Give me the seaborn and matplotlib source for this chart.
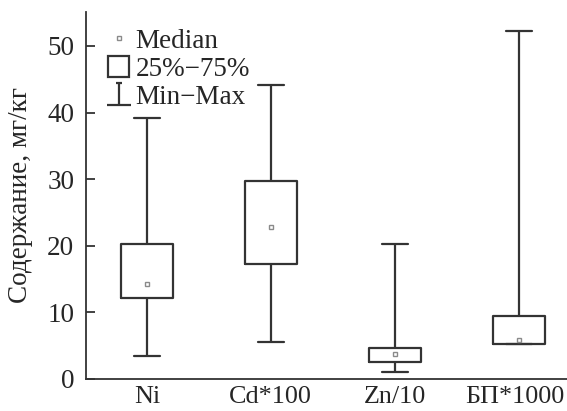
import matplotlib
matplotlib.use("Agg")
import matplotlib.pyplot as plt
import matplotlib.transforms as mtransforms
import numpy as np
import pandas as pd
import seaborn as sns
from matplotlib.lines import Line2D
from matplotlib.patches import Patch
from matplotlib.path import Path

# summary stats (min, q1, median, q3, max)
categories = ["Ni", "Cd*100", "Zn/10", "БП*1000"]
mins = [3.4, 5.6, 1.1, 5.2]
q1s = [12.2, 17.2, 2.6, 5.2]
medians = [14.3, 22.8, 3.7, 5.9]
q3s = [20.3, 29.8, 4.6, 9.5]
maxs = [39.2, 44.2, 20.2, 52.3]

LINE = "#333333"
FONT = ["Liberation Serif", "DejaVu Serif"]
FS = 19.5

sns.set_theme(style="white")
plt.rcParams["font.family"] = FONT
plt.rcParams["font.size"] = FS

# five points per group -> linear quartiles hit the values exactly
rows = []
for cat, a, b, c, d, e in zip(categories, mins, q1s, medians, q3s, maxs):
    for v in (a, b, c, d, e):
        rows.append({"group": cat, "value": v})
df = pd.DataFrame(rows)

fig = plt.figure(figsize=(5.67, 4.11), dpi=100)
ax = fig.add_axes([0.1517, 0.0779, 0.8483, 0.8929])

sns.boxplot(
    data=df, x="group", y="value", order=categories, ax=ax,
    whis=(0, 100), width=0.42, fill=False, color=LINE, linewidth=1.6,
    medianprops={"visible": False},
)

med_df = pd.DataFrame({"group": categories, "value": medians})
ax.plot(range(len(categories)), med_df["value"], ls="", marker="s", ms=3.4,
        mfc="white", mec="#8a8a8a", mew=1.0, zorder=5)

ax.set_xlim(-0.49, 3.39)
ax.set_ylim(0, 55.1)
ax.set_yticks([0, 10, 20, 30, 40, 50])
ax.set_xlabel("")
ax.set_ylabel("Содержание, мг/кг", fontsize=FS)
ax.yaxis.set_label_coords(-0.11, 0.5)

for side in ("top", "right"):
    ax.spines[side].set_visible(False)
for side in ("left", "bottom"):
    ax.spines[side].set_color(LINE)
    ax.spines[side].set_linewidth(1.3)

ax.tick_params(axis="y", direction="in", length=6.5, width=1.3, color=LINE,
               pad=8.5, labelsize=FS, left=True)
ax.tick_params(axis="x", length=0, pad=5, labelsize=18.8)

# last label sits against the right edge, nudge it in a little
last = ax.get_xticklabels()[-1]
last.set_transform(last.get_transform() +
                   mtransforms.ScaledTranslation(-4 / 100, 0, fig.dpi_scale_trans))

minmax = Path(
    [(-0.3, 1), (0.3, 1), (0, 1), (0, -1), (-1.1, -1), (1.1, -1)],
    [Path.MOVETO, Path.LINETO, Path.MOVETO, Path.LINETO, Path.MOVETO, Path.LINETO],
)
handles = [
    Line2D([], [], ls="", marker="s", ms=3.4, mfc="white", mec="#8a8a8a", mew=1.0),
    Patch(facecolor="white", edgecolor=LINE, linewidth=1.6),
    Line2D([], [], ls="", marker=minmax, ms=17, mec=LINE, mew=1.6),
]
ax.legend(
    handles, ["Median", "25%\u221275%", "Min\u2212Max"],
    loc="upper left", bbox_to_anchor=(0.024, 0.985), frameon=False,
    handlelength=0.75, handleheight=0.8, handletextpad=0.25, labelspacing=0.08,
    borderaxespad=0, fontsize=FS,
)

fig.savefig("out.png", dpi=100)
